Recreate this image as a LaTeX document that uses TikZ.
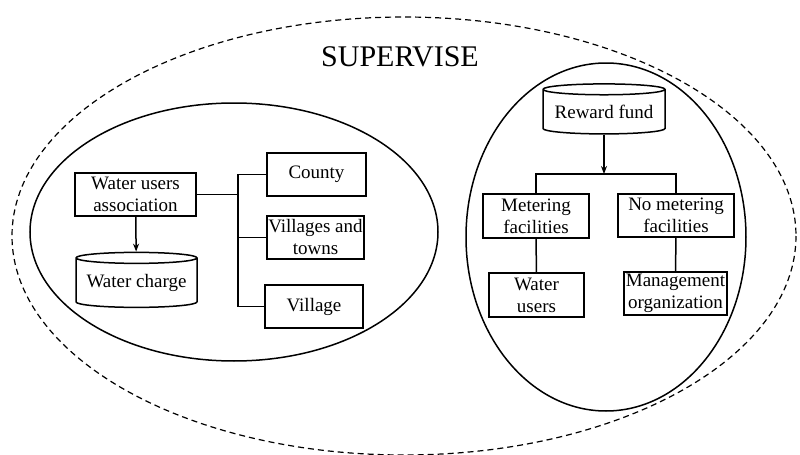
\documentclass[tikz,border=0pt]{standalone}
\usepackage{fontspec}
\setmainfont{Liberation Serif}
\usetikzlibrary{shapes.geometric,arrows.meta}
\begin{document}
\begin{tikzpicture}[x=0.5pt,y=-0.5pt,line width=0.75pt,
    box/.style={draw,align=center,inner sep=0pt,minimum height=21.5pt,font=\fontsize{9.5}{11}\selectfont},
    store/.style={draw,cylinder,shape border rotate=90,aspect=0.11,inner sep=0pt,font=\fontsize{9.5}{11}\selectfont},
    >={Stealth[length=4pt,width=3pt]}]
    \useasboundingbox (0,0) rectangle (800,455);
    \draw[line width=0.6pt,dash pattern=on 3pt off 2pt] (404,236) ellipse [x radius=392,y radius=219];
    \draw (234,232) ellipse [x radius=204,y radius=129];
    \draw (606,237) ellipse [x radius=140,y radius=174];
    \node[font=\fontsize{15}{18}\selectfont] (title) at (400,57) {SUPERVISE};

    \node[box,minimum width=60.5pt] (wua) at (135.5,194.5) {Water users\\association};
    \node[store,minimum width=60.5pt,minimum height=27.5pt] (charge) at (136.5,283) {Water charge};
    \node[box,minimum width=49.5pt] (county) at (316.5,174.5) {County};
    \node[box,minimum width=48.5pt] (towns) at (315.5,237.5) {Villages and\\towns};
    \node[box,minimum width=49pt] (village) at (314,306.5) {Village};
    \coordinate (bus) at (238,194.5);
    \draw[->] (wua) -- (charge);
    \draw (wua) -- (bus);
    \draw (county.west) -| (bus) |- (village.west);
    \draw (towns.west) -- (towns.west -| bus);

    \node[store,minimum width=61pt,minimum height=25pt] (fund) at (604,112) {Reward fund};
    \node[box,minimum width=53pt,minimum height=22pt] (meter) at (536,216) {Metering\\facilities};
    \node[box,minimum width=58pt] (nometer) at (676,215.5) {No metering\\facilities};
    \node[box,minimum width=47.5pt,minimum height=22pt] (users) at (536.5,295) {Water\\users};
    \node[box,minimum width=51.5pt] (mgmt) at (675.5,293.5) {Management\\organization};
    \coordinate (split) at (604,174);
    \draw[->] (fund) -- (split);
    \draw (meter) |- (split) -| (nometer);
    \draw (meter) -- (users);
    \draw (nometer) -- (mgmt);
\end{tikzpicture}
\end{document}
